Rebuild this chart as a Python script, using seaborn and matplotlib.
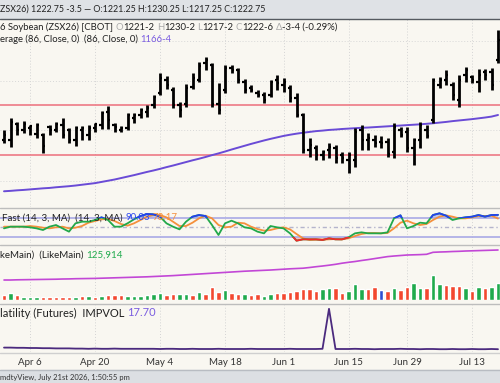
import numpy as np
import pandas as pd
import seaborn as sns
import matplotlib.pyplot as plt
from matplotlib.patches import Rectangle
from matplotlib.lines import Line2D

W, H = 500, 383
sns.set_style("white")
plt.rcParams['font.family'] = ['Lato', 'DejaVu Sans']

# trading days shown (Good Friday, Memorial Day, Juneteenth closed)
dates = pd.bdate_range('2026-03-30', '2026-07-17')
dates = dates[~dates.isin(pd.to_datetime(['2026-04-03', '2026-05-25', '2026-06-19']))]
idx = np.arange(len(dates))

high = [1155.25, 1164.25, 1161.25, 1162.0, 1159.0, 1160.5, 1153.0, 1159.0, 1161.25, 1164.25,
        1156.75, 1158.25, 1158.25, 1159.0, 1160.5, 1169.5, 1173.25, 1160.5, 1158.25, 1168.0,
        1168.0, 1171.75, 1174.0, 1181.5, 1198.0, 1195.75, 1187.5, 1176.25, 1189.75, 1198.0,
        1206.25, 1210.0, 1205.5, 1190.5, 1204.0, 1204.0, 1201.75, 1193.5, 1189.0, 1185.25,
        1183.75, 1192.75, 1196.5, 1194.25, 1189.0, 1183.0, 1168.0, 1149.25, 1144.0, 1140.25,
        1145.5, 1144.0, 1138.75, 1138.75, 1156.75, 1159.0, 1153.0, 1151.5, 1150.75, 1149.25,
        1160.5, 1157.5, 1157.5, 1149.25, 1161.25, 1159.0, 1194.25, 1195.0, 1200.25, 1191.25,
        1196.5, 1202.5, 1196.5, 1201.0, 1201.0, 1201.75, 1230.25]
low = [1145.5, 1142.5, 1151.5, 1153.0, 1151.5, 1149.25, 1138.0, 1151.5, 1153.75, 1149.25,
       1145.5, 1143.25, 1147.75, 1147.75, 1153.75, 1156.0, 1156.0, 1153.75, 1153.75, 1155.25,
       1160.5, 1164.25, 1165.0, 1171.75, 1181.5, 1186.0, 1171.75, 1165.0, 1172.5, 1186.0,
       1191.25, 1200.25, 1172.5, 1167.25, 1183.0, 1198.0, 1190.5, 1183.0, 1183.75, 1180.0,
       1175.5, 1180.0, 1185.25, 1183.75, 1176.25, 1165.0, 1138.0, 1135.0, 1132.75, 1132.75,
       1134.25, 1130.5, 1130.5, 1123.0, 1127.5, 1140.25, 1140.25, 1142.5, 1141.75, 1135.0,
       1134.25, 1150.0, 1138.75, 1129.0, 1141.75, 1149.25, 1160.5, 1186.75, 1189.0, 1177.75,
       1172.5, 1191.25, 1190.5, 1183.75, 1192.75, 1185.25, 1205.5]
open_ = [1147.75, 1147.75, 1159.75, 1155.25, 1156.75, 1152.25, 1151.5, 1157.5, 1155.25, 1159.0,
         1155.25, 1147.75, 1155.25, 1151.5, 1156.75, 1159.0, 1168.75, 1159.0, 1155.25, 1156.75,
         1164.25, 1166.5, 1168.75, 1174.0, 1183.0, 1192.75, 1185.25, 1174.0, 1174.75, 1187.5,
         1192.75, 1205.5, 1204.0, 1174.75, 1185.25, 1201.75, 1200.25, 1191.25, 1186.75, 1183.0,
         1181.5, 1181.5, 1192.75, 1189.0, 1186.75, 1179.25, 1166.5, 1140.25, 1141.75, 1136.5,
         1140.25, 1141.75, 1136.5, 1132.75, 1132.75, 1155.25, 1147.75, 1147.75, 1146.25, 1146.25,
         1138.75, 1155.25, 1153.75, 1141.75, 1147.75, 1155.25, 1162.75, 1189.0, 1192.75, 1189.0,
         1177.75, 1196.5, 1195.0, 1191.25, 1198.75, 1198.75, 1207.75]
close = [1151.5, 1161.25, 1155.25, 1159.75, 1158.25, 1159.0, 1143.25, 1155.25, 1159.75, 1151.5,
         1147.75, 1156.75, 1156.75, 1156.75, 1159.75, 1168.0, 1162.75, 1157.5, 1156.75, 1166.5,
         1166.5, 1170.25, 1171.75, 1180.0, 1194.25, 1189.0, 1174.0, 1170.25, 1186.75, 1194.25,
         1203.25, 1207.75, 1174.75, 1170.25, 1201.75, 1200.25, 1192.75, 1185.25, 1185.25, 1181.5,
         1177.75, 1191.25, 1190.5, 1191.25, 1179.25, 1166.5, 1140.25, 1144.0, 1136.5, 1138.75,
         1142.5, 1134.25, 1134.25, 1136.5, 1153.75, 1147.75, 1149.25, 1145.5, 1145.5, 1137.25,
         1157.5, 1151.5, 1141.75, 1147.75, 1159.0, 1150.75, 1192.75, 1192.75, 1196.5, 1181.5,
         1192.75, 1200.25, 1192.75, 1196.5, 1196.5, 1189.0, 1222.75]
ma86 = [1109.3, 1109.6, 1110.0, 1110.3, 1110.7, 1111.1, 1111.5, 1111.8, 1112.3, 1112.7,
        1113.1, 1113.6, 1114.2, 1114.8, 1115.4, 1116.3, 1117.2, 1118.1, 1119.2, 1120.3,
        1121.4, 1122.6, 1123.8, 1124.9, 1126.1, 1127.4, 1128.6, 1129.9, 1131.2, 1132.5,
        1133.7, 1135.0, 1136.4, 1137.7, 1139.1, 1140.6, 1142.0, 1143.4, 1144.8, 1146.1,
        1147.4, 1148.6, 1149.7, 1150.8, 1151.7, 1152.5, 1153.2, 1153.8, 1154.4, 1154.8,
        1155.3, 1155.6, 1156.0, 1156.3, 1156.6, 1156.9, 1157.1, 1157.4, 1157.7, 1158.0,
        1158.3, 1158.6, 1158.9, 1159.2, 1159.5, 1159.9, 1160.3, 1160.8, 1161.3, 1161.9,
        1162.4, 1162.9, 1163.4, 1164.0, 1164.6, 1165.3, 1166.5]
levels = [1174.0, 1136.5]

stoch_k = [46.8, 52.2, 52.2, 52.2, 50.1, 46.8, 41.5, 52.2, 57.5, 46.8,
           36.2, 62.9, 68.2, 68.2, 73.6, 82.1, 73.6, 52.2, 52.2, 62.9,
           75.7, 86.4, 92.8, 91.8, 84.3, 62.9, 52.2, 43.6, 68.2, 84.3,
           89.6, 86.4, 57.5, 25.5, 62.9, 71.4, 62.9, 50.1, 46.8, 36.2,
           30.8, 54.3, 50.1, 46.8, 30.8, 7.3, 11.5, 11.5, 11.5, 9.4,
           14.8, 11.5, 11.5, 18.0, 30.8, 34.0, 30.8, 30.8, 30.8, 34.0,
           78.9, 88.6, 46.8, 54.3, 65.0, 62.9, 89.6, 95.0, 87.5, 73.6,
           78.9, 82.1, 84.3, 89.6, 84.3, 89.6, 90.03]
stoch_d = [52.2, 52.2, 52.2, 52.2, 54.3, 52.2, 49.0, 46.8, 50.1, 52.2,
           46.8, 49.0, 54.3, 65.0, 70.4, 75.7, 76.8, 70.4, 60.8, 55.4,
           62.9, 73.6, 84.3, 89.6, 89.6, 82.1, 68.2, 54.3, 54.3, 65.0,
           78.9, 87.5, 78.9, 57.5, 50.1, 52.2, 65.0, 62.9, 52.2, 44.7,
           39.4, 41.5, 46.8, 50.1, 43.6, 28.7, 14.8, 9.4, 10.5, 10.5,
           11.5, 12.6, 11.5, 14.8, 22.2, 28.7, 31.9, 31.9, 30.8, 31.9,
           46.8, 65.0, 71.4, 62.9, 57.5, 60.8, 73.6, 84.3, 88.6, 84.3,
           78.9, 78.9, 82.1, 86.4, 86.4, 87.5, 78.17]

volume = [10000, 13300, 10000, 5300, 5300, 6700, 6700, 6700, 6700, 6700,
          6700, 6700, 8000, 8000, 6700, 8000, 10000, 10000, 10000, 8000,
          8700, 8700, 10000, 12000, 13300, 10000, 12000, 12000, 12000, 10000,
          15300, 12000, 25300, 16700, 20000, 14700, 12000, 11300, 10000, 11300,
          8700, 12000, 13300, 13300, 16700, 18000, 22000, 22000, 18700, 22000,
          23300, 23300, 13300, 18000, 32000, 22000, 22000, 25300, 20000, 18700,
          23300, 20000, 25300, 34700, 24700, 23300, 50000, 32000, 30000, 28700,
          28700, 24700, 18700, 26700, 23300, 25300, 33300]
vol_dir = list("rgrgggrrrrrgrgrgrrrggggggrrggrgrrrgrrg"
               "rrggrrrrrrrggrrgggrrbrgrrggrggrrrgrgrgg")
open_int = [95900, 95900, 96100, 96200, 96300, 96400, 96500, 96600, 96700, 96900,
            97000, 97200, 97300, 97400, 97500, 97700, 97900, 98100, 98300, 98500,
            98700, 98900, 99100, 99400, 99700, 100000, 100300, 100700, 101100, 101500,
            101900, 102300, 102700, 103100, 103500, 103900, 104300, 104700, 105000, 105300,
            105600, 105900, 106300, 106700, 107100, 107400, 107700, 108400, 109200, 109900,
            110700, 111600, 112700, 113600, 114400, 115400, 116300, 117300, 118300, 119300,
            119900, 120400, 120900, 121100, 121300, 121600, 123600, 123900, 124100, 124400,
            124600, 124900, 125100, 125300, 125500, 125700, 125914]
impvol = [18.10, 18.10, 18.05, 18.05, 18.00, 18.00, 17.95, 17.95, 17.90, 17.90,
          17.90, 17.85, 17.85, 17.80, 17.85, 17.80, 17.80, 17.85, 17.80, 17.80,
          17.80, 17.80, 17.80, 17.80, 17.75, 17.80, 17.80, 17.75, 17.75, 17.80,
          17.75, 17.75, 17.75, 17.80, 17.75, 17.75, 17.75, 17.75, 17.80, 17.75,
          17.75, 17.75, 17.75, 17.75, 17.80, 17.75, 17.75, 17.75, 17.75, 17.80,
          27.80, 17.75, 17.75, 17.75, 17.80, 17.75, 17.75, 17.70, 17.75, 17.75,
          17.75, 17.80, 17.75, 17.75, 17.70, 17.75, 17.75, 17.70, 17.70, 17.75,
          17.70, 17.70, 17.75, 17.70, 17.70, 17.75, 17.70]
tick_labels = ["Apr 6", "Apr 20", "May 4", "May 18", "Jun 1", "Jun 15", "Jun 29", "Jul 13"]
tick_dates = pd.to_datetime(["2026-04-06", "2026-04-20", "2026-05-04", "2026-05-18",
                             "2026-06-01", "2026-06-15", "2026-06-29", "2026-07-13"])
tick_pos = [int(np.where(dates == d)[0][0]) for d in tick_dates]

BG = '#f9f7f1'
fig = plt.figure(figsize=(W / 100, H / 100), dpi=100, facecolor=BG)
xlim = (-4 / 6.5, -4 / 6.5 + W / 6.5)


def panel(top, bottom):
    ax = fig.add_axes([0, 1 - bottom / H, 1, (bottom - top) / H])
    ax.set_facecolor(BG)
    ax.set_xlim(*xlim)
    for s in ax.spines.values():
        s.set_visible(False)
    ax.set_xticks(tick_pos)
    ax.set_xticklabels([])
    ax.set_yticks([])
    ax.tick_params(length=0)
    for t in tick_pos:
        ax.axvline(t, color='#d4d4d4', lw=0.7, ls=(0, (1, 2)), zorder=0)
    return ax


# price panel
ax1 = panel(19, 207)
ax1.set_ylim(1097.5, 1238.5)
for lv in [1222.0, 1192.0, 1155.0, 1117.0]:
    ax1.axhline(lv, color='#d8d8d8', lw=0.7, ls=(0, (1, 2)), zorder=0)
for lv in levels:
    ax1.axhline(lv, color='#ec6f7c', lw=1.1, zorder=1)
sns.lineplot(x=idx, y=ma86, ax=ax1, color='#6a4bd6', lw=1.4, zorder=2)
ax1.vlines(idx, low, high, color='black', lw=2.0, zorder=3)
ax1.hlines(open_, idx - 0.36, idx, color='black', lw=1.6, zorder=3)
ax1.hlines(close, idx, idx + 0.36, color='black', lw=1.6, zorder=3)

# stochastic panel
ax2 = panel(209, 243)
ax2.set_ylim(-0.2, 108.9)
ax2.axhline(80, color='#a9a9e6', lw=1.2)
ax2.axhline(20, color='#a9a9e6', lw=1.2)
ax2.axhline(50, color='#b4b4cc', lw=1.0, ls=(0, (3, 2, 1, 2)))
k = np.array(stoch_k)
ax2.fill_between(idx, k, 80, where=k > 80, interpolate=True, color='#5468f0', alpha=0.35, lw=0)
ax2.fill_between(idx, k, 20, where=k < 20, interpolate=True, color='#f05050', alpha=0.35, lw=0)
sns.lineplot(x=idx, y=stoch_d, ax=ax2, color='#f5903c', lw=1.3)
sns.lineplot(x=idx, y=stoch_k, ax=ax2, color='#22a84a', lw=1.3)
hi = ax2.plot(idx, k, color='#2440f0', lw=1.3)[0]
hi.set_clip_path(Rectangle((xlim[0], 80), W, 100, transform=ax2.transData))
lo = ax2.plot(idx, k, color='#f02a2a', lw=1.3)[0]
lo.set_clip_path(Rectangle((xlim[0], -50), W, 70, transform=ax2.transData))

# volume / open interest panel
ax3 = panel(246, 300)
ax3.set_ylim(0, 108000)
vcol = {'g': '#1faa4c', 'r': '#f3472f', 'b': '#2d4fd2'}
ax3.bar(idx, volume, width=0.62, color=[vcol[c] for c in vol_dir], zorder=2)
ax3b = ax3.twinx()
ax3b.set_xlim(*xlim)
ax3b.set_ylim(75914, 129914)
ax3b.set_yticks([])
for s in ax3b.spines.values():
    s.set_visible(False)
sns.lineplot(x=idx, y=open_int, ax=ax3b, color='#c247d6', lw=1.2)

# implied volatility panel
ax4 = panel(305, 352)
ax4.set_ylim(17.0, 28.75)
sns.lineplot(x=idx, y=impvol, ax=ax4, color='#4b2a7e', lw=1.3)
ax4.set_xticklabels(tick_labels, fontsize=7, color='#333333')
ax4.tick_params(axis='x', pad=4, length=0)

for a in (ax1, ax2, ax3, ax3b, ax4):
    a.set_xlabel('')
    a.set_ylabel('')

# header / footer bars and separators
fig.patches.append(Rectangle((0, 1 - 18 / H), 1, 18 / H, transform=fig.transFigure,
                             color='#dfe2e6', zorder=0))
fig.patches.append(Rectangle((0, 0), 1, 13 / H, transform=fig.transFigure,
                             color='#dcdfe3', zorder=0))
for yy, c in [(18.5, '#555a60'), (208, '#bdbdbd'), (244.5, '#bdbdbd'), (303.5, '#bdbdbd'),
              (353, '#cfcfcf'), (370, '#b8bcc2')]:
    fig.add_artist(Line2D([0, 1], [1 - yy / H] * 2, transform=fig.transFigure, color=c, lw=1))

renderer = fig.canvas.get_renderer()


def seg_text(x, y, parts, size=7):
    for s, c in parts:
        if s == ' ':
            x += 2.5
            continue
        t = fig.text(x / W, 1 - y / H, s, color=c, fontsize=size, va='center', ha='left')
        x += t.get_window_extent(renderer=renderer).width


seg_text(0, 9, [("ZSX26) 1222.75 -3.5 \u2014 O:1221.25 H:1230.25 L:1217.25 C:1222.75", '#222222')], 6.4)
g = '#aaaaaa'
k_ = '#222222'
seg_text(0, 27, [("6 Soybean (ZSX26) [CBOT]", k_), (' ', k_), ("O", g), ("1221-2", k_), (' ', k_),
                 ("H", g), ("1230-2", k_), (' ', k_), ("L", g), ("1217-2", k_), (' ', k_),
                 ("C", g), ("1222-6", k_), (' ', k_), ("\u0394", g), ("-3-4 (-0.29%)", k_)], 6.8)
seg_text(0, 39, [("erage (86, Close, 0)  (86, Close, 0)", k_), (' ', k_), ("1166-4", '#7a5ce0')], 6.8)
seg_text(2, 218, [("Fast (14, 3, MA)  (14, 3, MA)", k_), (' ', k_), ("90.03", '#2844f0'),
                  (' ', k_), ("78.17", '#f5903c')])
seg_text(0, 255, [("keMain)  (LikeMain)", k_), (' ', k_), ("125,914", '#1faa4c')])
seg_text(0, 313, [("latility (Futures)  IMPVOL", k_), (' ', k_), ("17.70", '#7a5ce0')], 8)
seg_text(0, 377, [("mdtyView, July 21st 2026, 1:50:55 pm", '#333333')], 5.5)

fig.savefig('out.png', dpi=100, facecolor=BG)
